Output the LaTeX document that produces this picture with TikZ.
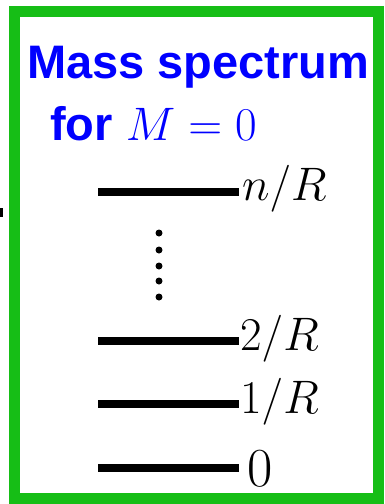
\RequirePackage{fix-cm}
\documentclass[tikz,border=0pt]{standalone}
\usepackage{fontspec}
\setsansfont{Liberation Sans}
\definecolor{boxgreen}{RGB}{22,190,22}
\definecolor{titleblue}{RGB}{0,0,255}
\begin{document}
\begin{tikzpicture}[x=1pt, y=-1pt,
    every node/.style={inner sep=0pt},
    title/.style={anchor=base west, text=titleblue, font=\sffamily\bfseries\fontsize{47}{47}\selectfont},
    level/.style={line width=8pt},
    lbl/.style={anchor=base west, font=\fontsize{47}{47}\selectfont}]
    \useasboundingbox (0,0) rectangle (384,504);
    \draw[boxgreen, line width=11pt] (14,11) rectangle (378,498);
    \fill (0,208) rectangle (3,217);
    \node[title] (head) at (27,78) {Mass spectrum};
    \node[title] (cond) at (50,140) {for $M=0$};
    % levels
    \draw[level] (98,191.5) -- (239,191.5);
    \node[lbl] (ln) at (242,200) {$n/R$};
    \foreach \y in {233,250,266,281,297}
        \fill (159,\y) circle (3.5);
    \draw[level] (98,341) -- (239,341);
    \node[lbl] (l2) at (240,350) {$2/R$};
    \draw[level] (98,404) -- (239,404);
    \node[lbl] (l1) at (240,413) {$1/R$};
    \draw[level] (98,467.5) -- (239,467.5);
    \node[lbl, font=\fontsize{55}{55}\selectfont] (l0) at (247,486) {$0$};
\end{tikzpicture}
\end{document}
